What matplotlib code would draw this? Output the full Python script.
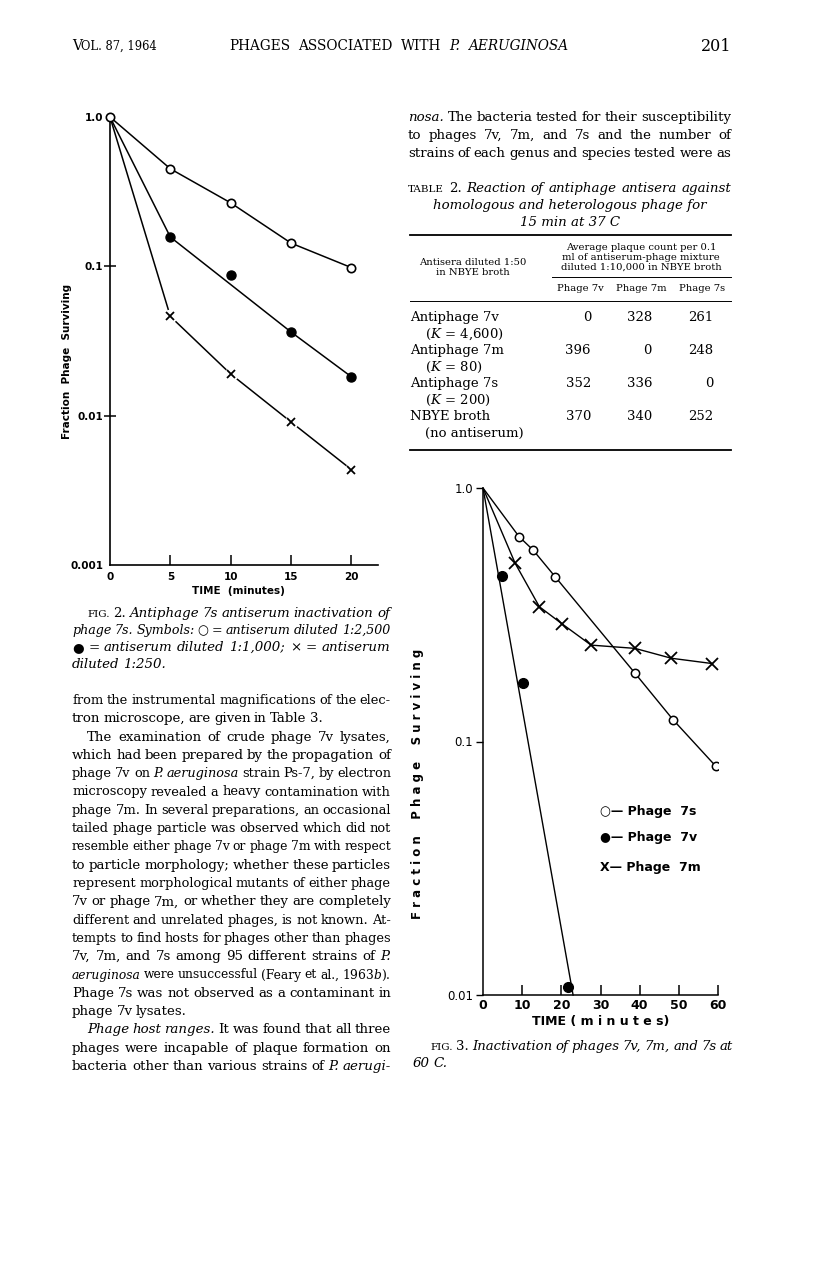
import matplotlib
matplotlib.use('Agg')
import matplotlib.pyplot as plt
from matplotlib.ticker import FixedLocator, NullLocator

plt.rcParams['mathtext.fontset'] = 'dejavuserif'

W, H = 816, 1269
SERIF = ['DejaVu Serif', 'DejaVu Sans']
SANS = ['DejaVu Sans']

# --- FIG. 2 data (fraction of phage 7s surviving vs minutes) ---
fig2_time = [0, 5, 10, 15, 20]
fig2_dil_2500 = [1.0, 0.45, 0.266, 0.143, 0.098]
fig2_dil_1000 = [1.0, 0.157, 0.0877, 0.0363, 0.0182]
fig2_dil_250 = [1.0, 0.0462, 0.019, 0.00907, 0.00435]
fig2_dil_1000_fit = [0, 1, 3, 4]   # points the drawn line passes through

# --- FIG. 3 data (inactivation at 60 C) ---
fig3_7s_time = [0, 9.2, 12.8, 18.4, 38.8, 48.5, 59.4]
fig3_7s = [1.0, 0.643, 0.569, 0.447, 0.186, 0.122, 0.080]
fig3_7m_time = [0, 8.2, 14.4, 20.2, 27.6, 38.8, 48.1, 58.5]
fig3_7m = [1.0, 0.505, 0.340, 0.291, 0.240, 0.233, 0.213, 0.203]
fig3_7v_time = [4.9, 10.1, 21.8]
fig3_7v = [0.45, 0.170, 0.0108]
fig3_7v_line_time = [0, 23]
fig3_7v_line = [1.0, 0.01]

# --- TABLE 2 ---
table_rows = ["Antiphage 7v", "Antiphage 7m", "Antiphage 7s", "NBYE broth"]
table_sub = ["($K$ = 4,600)", "($K$ = 80)", "($K$ = 200)", "(no antiserum)"]
table_cols = ["Phage 7v", "Phage 7m", "Phage 7s"]
table_vals = [[0, 328, 261], [396, 0, 248], [352, 336, 0], [370, 340, 252]]

# --- page text ---
left_lines = [
    ("from the instrumental magnifications of the elec-", True, False),
    ("tron microscope, are given in Table 3.", False, False),
    ("The examination of crude phage 7v lysates,", True, True),
    ("which had been prepared by the propagation of", True, False),
    ("phage 7v on _P. _aeruginosa strain Ps-7, by electron", True, False),
    ("microscopy revealed a heavy contamination with", True, False),
    ("phage 7m. In several preparations, an occasional", True, False),
    ("tailed phage particle was observed which did not", True, False),
    ("resemble either phage 7v or phage 7m with respect", True, False),
    ("to particle morphology; whether these particles", True, False),
    ("represent morphological mutants of either phage", True, False),
    ("7v or phage 7m, or whether they are completely", True, False),
    ("different and unrelated phages, is not known. At-", True, False),
    ("tempts to find hosts for phages other than phages", True, False),
    ("7v, 7m, and 7s among 95 different strains of _P.", True, False),
    ("_aeruginosa were unsuccessful (Feary et al., 1963$b$).", True, False),
    ("Phage 7s was not observed as a contaminant in", True, False),
    ("phage 7v lysates.", False, False),
    ("_Phage _host _ranges. It was found that all three", True, True),
    ("phages were incapable of plaque formation on", True, False),
    ("bacteria other than various strains of _P. _aerugi-", True, False),
]
right_lines = [
    "_nosa. The bacteria tested for their susceptibility",
    "to phages 7v, 7m, and 7s and the number of",
    "strains of each genus and species tested were as",
]
fig2_caption = [
    ("^FIG. 2. _Antiphage _7s _antiserum _inactivation _of", True, True),
    ("_phage _7s. _Symbols: \u25cb _= _antiserum _diluted _1:2,500", True, False),
    ("\u25cf _= _antiserum _diluted _1:1,000; \u00d7 _= _antiserum", True, False),
    ("_diluted _1:250.", False, False),
]

fig = plt.figure(figsize=(W / 100, H / 100), dpi=100)
renderer = fig.canvas.get_renderer()


def fx(x):
    return x / W


def fy(y):
    return 1 - y / H


def text_line(line, x0, y, size, x1=None):
    objs, sizes = [], []
    for w in line.split():
        kw = dict(fontsize=size, style='normal', family=SERIF)
        if w.startswith('_'):
            w = w[1:]
            kw['style'] = 'italic'
        if w.startswith('^'):
            w = w[1:].upper()
            kw['fontsize'] = size * 0.78
        objs.append(fig.text(0, fy(y), w, va='baseline', ha='left', **kw))
        sizes.append(kw['fontsize'])
    widths = [t.get_window_extent(renderer).width for t in objs]
    min_gap = size * 100 / 72 * 0.24
    gap = min_gap
    if x1 is not None and len(objs) > 1:
        need = sum(widths) + min_gap * (len(objs) - 1)
        if need > x1 - x0:
            # squeeze the type a little so the line fits its column
            k = (x1 - x0) / need
            for t, s in zip(objs, sizes):
                t.set_fontsize(s * k)
            widths = [t.get_window_extent(renderer).width for t in objs]
        gap = (x1 - x0 - sum(widths)) / (len(objs) - 1)
    x = x0
    for t, w in zip(objs, widths):
        t.set_x(fx(x))
        x += w + gap


BODY = 9.6
CAP = 9.6

# header
fig.text(fx(72), fy(50), "V", fontsize=10, family=SERIF, va='baseline')
fig.text(fx(81), fy(50), "OL. 87, 1964", fontsize=8.3, family=SERIF, va='baseline')
text_line("PHAGES ASSOCIATED WITH _P. _AERUGINOSA", 229, 50, 9.8, 568)
fig.text(fx(731), fy(51), "201", fontsize=11.5, family=SERIF, va='baseline', ha='right')

# left column text
for i, (s, just, indent) in enumerate(fig2_caption):
    text_line(s, 87 if indent else 72, 617 + i * 17, CAP, 390 if just else None)
for i, (s, just, indent) in enumerate(left_lines):
    text_line(s, 87 if indent else 72, 704 + i * 18.3, BODY, 391 if just else None)

# right column text
for i, s in enumerate(right_lines):
    text_line(s, 408, 121 + i * 18, BODY, 731)

# table 2
text_line("^TABLE 2. _Reaction _of _antiphage _antisera _against", 408, 192, CAP, 731)
fig.text(fx(570), fy(209), "homologous and heterologous phage for", style='italic',
         fontsize=CAP, family=SERIF, ha='center', va='baseline')
fig.text(fx(570), fy(226), "15 min at 37 C", style='italic',
         fontsize=CAP, family=SERIF, ha='center', va='baseline')
for y, lw, x0 in [(235, 1.3, 410), (277, 0.7, 552), (301, 0.7, 410), (450, 1.3, 410)]:
    fig.add_artist(plt.Line2D([fx(x0), fx(731)], [fy(y), fy(y)], color='black', lw=lw))
for i, s in enumerate(["Antisera diluted 1:50", "in NBYE broth"]):
    fig.text(fx(473), fy(265 + i * 10), s, fontsize=7.2, family=SERIF, ha='center', va='baseline')
for i, s in enumerate(["Average plaque count per 0.1", "ml of antiserum-phage mixture",
                       "diluted 1:10,000 in NBYE broth"]):
    fig.text(fx(641), fy(250 + i * 10), s, fontsize=7.2, family=SERIF, ha='center', va='baseline')
col_x = [580, 641, 702]
for cx, s in zip(col_x, table_cols):
    fig.text(fx(cx), fy(291), s, fontsize=7.2, family=SERIF, ha='center', va='baseline')
for r, (name, sub, vals) in enumerate(zip(table_rows, table_sub, table_vals)):
    y = 321 + r * 33
    fig.text(fx(410), fy(y), name, fontsize=9.5, family=SERIF, va='baseline')
    fig.text(fx(425), fy(y + 17), sub, fontsize=9.5, family=SERIF, va='baseline')
    for cx, v in zip(col_x, vals):
        fig.text(fx(cx + 11), fy(y), str(v), fontsize=9.5, family=SERIF, va='baseline', ha='right')

# fig 3 caption
text_line("^FIG. 3. _Inactivation _of _phages _7v, _7m, _and _7s _at", 430, 1050, CAP, 733)
text_line("_60 _C.", 413, 1067, CAP)

# ---------------- FIG. 2 ----------------
ax2 = fig.add_axes([fx(110), fy(565), (378 - 110) / W, (565 - 117) / H])
ax2.set_yscale('log')
ax2.set_ylim(0.001, 1.0)
ax2.set_xlim(0, 22.2)
ax2.plot(fig2_time, fig2_dil_2500, color='black', lw=1.1, marker='o', ms=6,
         mfc='white', mec='black', mew=1.2, clip_on=False, zorder=3)
ax2.plot([fig2_time[i] for i in fig2_dil_1000_fit], [fig2_dil_1000[i] for i in fig2_dil_1000_fit],
         color='black', lw=1.1, zorder=2)
ax2.plot(fig2_time[1:], fig2_dil_1000[1:], ls='none', marker='o', ms=6.5, color='black', zorder=4)
ax2.plot(fig2_time, fig2_dil_250, color='black', lw=1.1, zorder=2, clip_on=False)
ax2.plot(fig2_time[1:], fig2_dil_250[1:], ls='none', marker='o', ms=10, mfc='white', mec='none', zorder=3)
ax2.plot(fig2_time[1:], fig2_dil_250[1:], ls='none', marker='x', ms=6, mew=1.3, color='black', zorder=4)

for side in ['top', 'right']:
    ax2.spines[side].set_visible(False)
for side in ['left', 'bottom']:
    ax2.spines[side].set_linewidth(1.2)
ax2.yaxis.set_major_locator(FixedLocator([0.001, 0.01, 0.1, 1.0]))
ax2.yaxis.set_minor_locator(NullLocator())
ax2.set_yticklabels(['0.001', '0.01', '0.1', '1.0'])
ax2.set_xticks(fig2_time)
ax2.set_xticklabels([str(t) for t in fig2_time])
ax2.tick_params(axis='y', direction='inout', length=8, width=1.1, pad=1, labelsize=7.5)
ax2.tick_params(axis='x', direction='in', length=7, width=1.1, pad=5, labelsize=7.5)
for lab in ax2.get_xticklabels() + ax2.get_yticklabels():
    lab.set_fontweight('bold')
ax2.yaxis.get_major_ticks()[0].tick1line.set_visible(False)
ax2.yaxis.get_major_ticks()[3].tick1line.set_visible(False)
ax2.xaxis.get_major_ticks()[0].tick1line.set_visible(False)
ax2.set_ylabel("Fraction  Phage  Surviving", fontsize=7.5, fontweight='bold', va='center')
ax2.yaxis.set_label_coords(-0.160, 0.455)
ax2.set_xlabel("TIME  (minutes)", fontsize=7.5, fontweight='bold', va='center')
ax2.xaxis.set_label_coords(0.478, -0.058)
ax2.patch.set_alpha(0)

# ---------------- FIG. 3 ----------------
ax3 = fig.add_axes([fx(483), fy(995), (718 - 483) / W, (995 - 488) / H])
ax3.set_yscale('log')
ax3.set_ylim(0.01, 1.0)
ax3.set_xlim(0, 60)
ax3.plot(fig3_7s_time, fig3_7s, color='black', lw=1.0, marker='o', ms=6, mfc='white',
         mec='black', mew=1.1, markevery=list(range(1, len(fig3_7s))), zorder=3)
ax3.plot(fig3_7m_time, fig3_7m, color='black', lw=1.0, marker='x', ms=9, mew=1.3,
         markevery=list(range(1, len(fig3_7m))), zorder=3)
ax3.plot(fig3_7v_line_time, fig3_7v_line, color='black', lw=1.0, clip_on=False, zorder=2)
ax3.plot(fig3_7v_time, fig3_7v, ls='none', marker='o', ms=7, color='black', clip_on=False, zorder=4)

for side in ['top', 'right']:
    ax3.spines[side].set_visible(False)
for side in ['left', 'bottom']:
    ax3.spines[side].set_linewidth(1.1)
ax3.yaxis.set_major_locator(FixedLocator([0.01, 0.1, 1.0]))
ax3.yaxis.set_minor_locator(NullLocator())
ax3.set_yticklabels(['0.01', '0.1', '1.0'])
ax3.set_xticks([0, 10, 20, 30, 40, 50, 60])
ax3.set_xticklabels(['0', '10', '20', '30', '40', '50', '60'])
ax3.tick_params(axis='y', direction='out', length=5, width=1.0, pad=2, labelsize=8.5)
ax3.tick_params(axis='x', direction='in', length=7, width=1.1, pad=3, labelsize=9)
for lab in ax3.get_xticklabels():
    lab.set_fontweight('bold')
ax3.xaxis.get_major_ticks()[0].tick1line.set_visible(False)
ax3.set_ylabel("F r a c t i o n    P h a g e    S u r v i v i n g", fontsize=8.5,
               fontweight='bold', va='center')
ax3.yaxis.set_label_coords(-0.277, 0.416)
ax3.set_xlabel("TIME ( m i n u t e s)", fontsize=9, fontweight='bold', va='center')
ax3.xaxis.set_label_coords(0.502, -0.053)
for yy, s in [(811, "\u25cb\u2014 Phage  7s"), (837, "\u25cf\u2014 Phage  7v"), (867, "X\u2014 Phage  7m")]:
    ax3.text((600 - 483) / 235, (995 - yy) / 507, s, transform=ax3.transAxes, fontsize=9,
             fontweight='bold', family=SANS, va='center', ha='left')
ax3.patch.set_alpha(0)

fig.savefig('out.png', dpi=100, facecolor='white')
